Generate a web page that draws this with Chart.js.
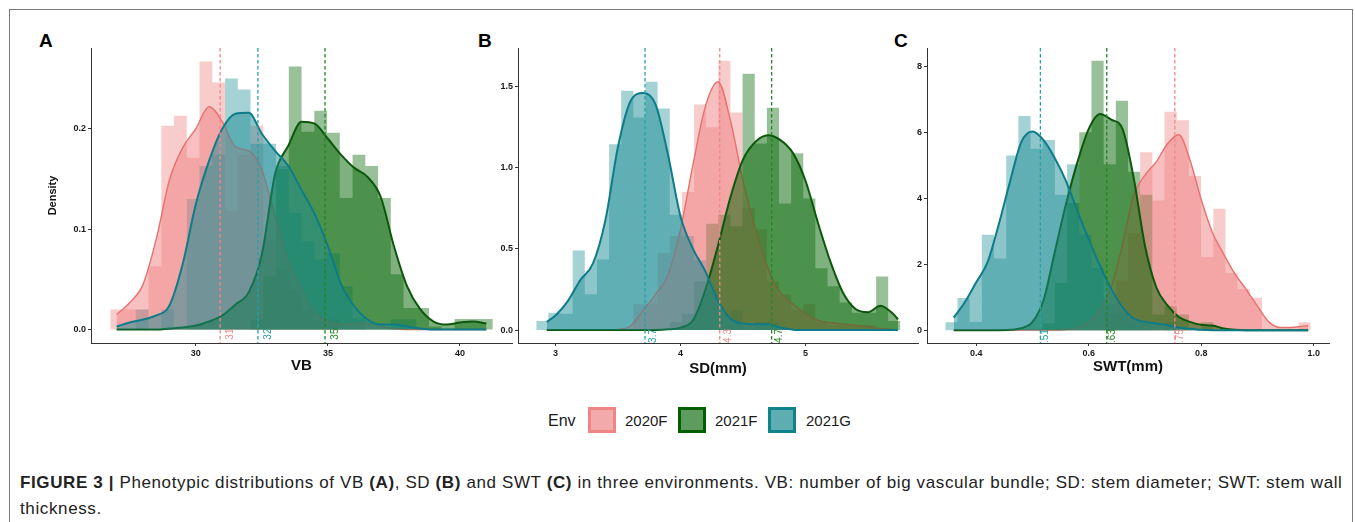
<!DOCTYPE html>
<html>
<head>
<meta charset="utf-8">
<script src="https://cdn.jsdelivr.net/npm/chart.js@4.4.0/dist/chart.umd.min.js"></script>
<style>
  html, body { margin: 0; padding: 0; background: #fff; }
  body { width: 1355px; height: 522px; position: relative; overflow: hidden; font-family: "Liberation Sans", Arial, sans-serif; }
  .frame { position: absolute; left: 9px; top: 9px; width: 1344px; height: 540px; border: 1px solid #7a7a7a; box-sizing: border-box; }
  canvas { position: absolute; top: 40px; }
  .tag { position: absolute; top: 30px; font: bold 19px "Liberation Sans", Arial, sans-serif; color: #000; }
  .leg { position: absolute; top: 411px; line-height: 20px; font-size: 15px; color: #1a1a1a; }
  .key { position: absolute; top: 407px; width: 28px; height: 26px; box-sizing: border-box; border: 3px solid; }
  .caption { position: absolute; left: 20px; top: 470px; font-size: 17px; letter-spacing: 0.62px; line-height: 26px; color: #222; white-space: nowrap; }
</style>
</head>
<body>
<div class="frame"></div>
<div class="tag" style="left:39px">A</div>
<div class="tag" style="left:478px">B</div>
<div class="tag" style="left:894px">C</div>

<canvas id="vb" width="480" height="338" style="left:40px"></canvas>
<canvas id="sd" width="459" height="338" style="left:467px"></canvas>
<canvas id="swt" width="461" height="338" style="left:876px"></canvas>

<div class="leg" style="left:548px;font-size:16px">Env</div>
<div class="key" style="left:588px;background:#F2AAAA;border-color:#F08585"></div>
<div class="leg" style="left:625px">2020F</div>
<div class="key" style="left:678px;background:#5E9B5E;border-color:#005F00"></div>
<div class="leg" style="left:715px">2021F</div>
<div class="key" style="left:768px;background:#5EADB1;border-color:#10838D"></div>
<div class="leg" style="left:806px">2021G</div>

<div class="caption">
  <div><b>FIGURE 3 |</b> Phenotypic distributions of VB <b>(A)</b>, SD <b>(B)</b> and SWT <b>(C)</b> in three environments. VB: number of big vascular bundle; SD: stem diameter; SWT: stem wall</div>
  <div>thickness.</div>
</div>

<script>
// ---- data ----
const groups = ['2020F', '2021F', '2021G'];

// panel A: VB
const vbBinStart = 26.76;
const vbBinWidth = 0.4828;
const vbHist2020F = [0.02,0.02,0.02,0.063,0.203,0.213,0.171,0.267,0.246,0.118,0.174,0.203,0.089,0.06,0.04,0.02,0.01,0.01,0,0,0,0,0,0,0,0,0,0,0,0];
const vbHist2021F = [0,0,0,0,0,0,0,0,0,0,0,0.01,0.053,0.16,0.262,0.197,0.218,0.196,0.131,0.174,0.163,0.131,0.055,0.0215,0.0215,0.003,0,0.0106,0.0106,0.0106];
const vbHist2021G = [0,0,0.02,0,0.02,0,0.13,0.163,0.174,0.25,0.239,0.185,0.185,0.163,0.116,0.088,0.07,0.076,0.043,0.0116,0,0,0.01,0.01,0,0,0,0,0,0];
const vbDensX = [27,27.5,28,28.5,29,29.5,30,30.5,31,31.5,32,32.5,33,33.5,34,34.5,35,35.5,36,36.5,37,37.5,38,38.5,39,39.5,40,40.5,41];
const vbDens2020F = [0.015,0.027,0.045,0.09,0.149,0.181,0.2,0.222,0.207,0.182,0.178,0.159,0.113,0.068,0.04,0.017,0.008,0.005,0.006,0.006,0.003,0.001,0,0,0,0,0,0,0];
const vbDens2021F = [0,0,0,0,0.001,0.002,0.004,0.008,0.014,0.025,0.037,0.075,0.155,0.183,0.207,0.205,0.19,0.174,0.161,0.152,0.132,0.083,0.043,0.02,0.008,0.005,0.007,0.008,0.006];
const vbDens2021G = [0.003,0.007,0.01,0.014,0.024,0.065,0.125,0.168,0.2,0.215,0.216,0.195,0.178,0.163,0.139,0.115,0.083,0.045,0.023,0.01,0.005,0.005,0.003,0.001,0,0,0,0,0];
const vbMeans = [30.92, 34.89, 32.35];
const vbMeanLabels = ['31', '35', '32'];
const vbXTicks = [30, 35, 40];
const vbXLabels = ['30', '35', '40'];
const vbYTicks = [0, 0.1, 0.2];
const vbYLabels = ['0.0', '0.1', '0.2'];

// panel B: SD(mm)
const sdBinStart = 2.846;
const sdBinWidth = 0.0971;
const sdHist2020F = [0,0,0,0,0,0,0,0,0.16,0.16,0.475,0.58,0.85,1.39,1.25,1.66,1.34,0.75,0.62,0.3,0.22,0.12,0.16,0.05,0.03,0.03,0.03,0.03,0,0];
const sdHist2021F = [0,0,0,0,0,0,0,0,0,0,0,0.05,0.1,0.3,0.655,0.71,0.64,1.58,1.15,1.37,0.78,1.09,0.81,0.38,0.27,0.17,0.107,0.107,0.33,0.055];
const sdHist2021G = [0.055,0.107,0.1,0.49,0.22,0.434,1.145,1.475,1.31,1.53,1.365,0.71,0.58,0.43,0.25,0.1,0.12,0,0.05,0.05,0,0,0,0,0,0,0,0,0,0];
const sdDensX = [2.93,3.0,3.1,3.2,3.3,3.4,3.5,3.6,3.7,3.8,3.9,4.0,4.1,4.2,4.3,4.4,4.5,4.6,4.7,4.8,4.9,5.0,5.1,5.2,5.3,5.4,5.5,5.6,5.7,5.74];
const sdDens2020F = [0,0,0,0,0,0,0.004,0.025,0.12,0.22,0.34,0.62,1.02,1.38,1.53,1.29,0.92,0.62,0.38,0.23,0.16,0.1,0.06,0.045,0.038,0.03,0.02,0.01,0.004,0.002];
const sdDens2021F = [0,0,0,0,0,0,0,0,0,0,0.004,0.015,0.06,0.25,0.52,0.82,1.05,1.16,1.2,1.17,1.09,0.92,0.66,0.42,0.23,0.13,0.11,0.15,0.1,0.066];
const sdDens2021G = [0.05,0.09,0.18,0.31,0.41,0.68,1.13,1.41,1.46,1.39,1.08,0.7,0.5,0.36,0.18,0.07,0.04,0.035,0.035,0.015,0.002,0,0,0,0,0,0,0,0,0];
const sdMeans = [4.314, 4.729, 3.716];
const sdMeanLabels = ['4.3', '4.7', '3.7'];
const sdXTicks = [3, 4, 5];
const sdXLabels = ['3', '4', '5'];
const sdYTicks = [0, 0.5, 1.0, 1.5];
const sdYLabels = ['0.0', '0.5', '1.0', '1.5'];

// panel C: SWT(mm)
const swtBinStart = 0.345;
const swtBinWidth = 0.02165;
const swtHist2020F = [0,0,0,0,0,0,0,0,0,0,0,0,0,0.5,1.5,2.94,5.39,3.93,6.62,6.36,4.67,2.22,3.68,1.73,1.25,0.98,0,0,0,0.24];
const swtHist2021F = [0,0,0,0,0,0,0,0,0.2,1.43,3.85,6.0,8.16,5.03,6.95,4.8,4.1,0.47,0.72,0.47,0,0.24,0,0,0,0,0,0,0,0];
const swtHist2021G = [0.24,0.97,0.25,2.89,2.17,5.29,6.49,5.5,5.76,4.1,5.03,2.89,1.88,0.8,0.5,0.24,0.24,0,0.24,0,0,0,0,0,0,0,0,0,0,0];
const swtDensX = [0.36,0.38,0.40,0.42,0.44,0.46,0.48,0.50,0.52,0.54,0.56,0.58,0.60,0.62,0.64,0.66,0.68,0.70,0.72,0.74,0.76,0.78,0.80,0.82,0.84,0.86,0.88,0.90,0.92,0.94,0.96,0.98,0.99];
const swtDens2020F = [0,0,0,0,0,0,0,0,0,0,0.02,0.08,0.25,0.65,1.3,2.6,4.1,4.7,5.1,5.65,5.92,5.15,3.95,2.95,2.3,1.7,1.23,0.72,0.25,0.08,0.08,0.12,0.14];
const swtDens2021F = [0,0,0,0,0,0.01,0.06,0.25,0.93,2.4,3.85,5.1,6.1,6.55,6.38,6.1,4.6,2.55,1.3,0.75,0.4,0.25,0.16,0.14,0.05,0.01,0,0,0,0,0,0,0];
const swtDens2021G = [0.38,0.85,1.45,2.05,3.2,4.5,5.7,6.02,5.75,5.2,4.5,3.6,2.75,1.95,1.25,0.7,0.35,0.25,0.2,0.15,0.08,0.04,0.01,0,0,0,0,0,0,0,0,0,0];
const swtMeans = [0.753, 0.632, 0.514];
const swtMeanLabels = ['0.75', '0.63', '0.51'];
const swtXTicks = [0.4, 0.6, 0.8, 1.0];
const swtXLabels = ['0.4', '0.6', '0.8', '1.0'];
const swtYTicks = [0, 2, 4, 6, 8];
const swtYLabels = ['0', '2', '4', '6', '8'];

// ---- styles ----
const FONT = '"Liberation Sans", Arial, sans-serif';
const base = { '2020F': '240,128,128', '2021F': '0,100,0', '2021G': '28,142,150' };
const lineColor = { '2020F': '#E8706E', '2021F': '#0B570B', '2021G': '#0E7C88' };
const lineWidth = { '2020F': 1.4, '2021F': 2, '2021G': 2 };
const dashColor = { '2020F': '#F08888', '2021F': '#238623', '2021G': '#27A0A8' };
const histAlpha = 0.4;
const densAlpha = 0.5;

function histPoints(start, width, heights) {
  const pts = heights.map((h, i) => ({ x: start + width * i, y: h }));
  pts.push({ x: start + width * heights.length, y: 0 });
  return pts;
}

function densPoints(xs, ys) {
  return xs.map((x, i) => ({ x: x, y: ys[i] }));
}

const meanLines = {
  id: 'meanLines',
  afterDatasetsDraw(chart, args, opts) {
    const { ctx, chartArea: a, scales: { x, y } } = chart;
    const y0 = y.getPixelForValue(0);
    ctx.save();
    ctx.beginPath();
    ctx.rect(a.left, a.top, a.right - a.left, a.bottom - a.top);
    ctx.clip();
    opts.values.forEach((v, i) => {
      const g = groups[i];
      const px = x.getPixelForValue(v);
      ctx.strokeStyle = dashColor[g];
      ctx.lineWidth = 1.3;
      ctx.setLineDash([3.5, 2.5]);
      ctx.beginPath();
      ctx.moveTo(px, a.top);
      ctx.lineTo(px, a.bottom);
      ctx.stroke();
      ctx.save();
      ctx.translate(px + opts.offset, y0 - 1);
      ctx.rotate(-Math.PI / 2);
      ctx.fillStyle = dashColor[g];
      ctx.font = '10px ' + FONT;
      ctx.textAlign = 'right';
      ctx.textBaseline = 'top';
      ctx.fillText(opts.labels[i], 0, 0);
      ctx.restore();
    });
    ctx.restore();
  }
};

function makePanel(id, p) {
  const datasets = [];
  groups.forEach((g, i) => {
    datasets.push({
      data: histPoints(p.binStart, p.binWidth, p.hist[i]),
      stepped: true,
      fill: 'origin',
      backgroundColor: 'rgba(' + base[g] + ',' + histAlpha + ')',
      borderColor: 'transparent',
      borderWidth: 0,
      pointRadius: 0,
      order: 6 - i
    });
  });
  groups.forEach((g, i) => {
    datasets.push({
      data: densPoints(p.densX, p.dens[i]),
      fill: 'origin',
      backgroundColor: 'rgba(' + base[g] + ',' + densAlpha + ')',
      borderColor: lineColor[g],
      borderWidth: lineWidth[g],
      pointRadius: 0,
      cubicInterpolationMode: 'monotone',
      order: 3 - i
    });
  });

  const tickFont = { family: FONT, size: 9, weight: 'bold' };
  new Chart(document.getElementById(id), {
    type: 'line',
    data: { datasets: datasets },
    options: {
      responsive: false,
      animation: false,
      events: [],
      layout: { padding: { left: 0, top: 8, right: 8, bottom: 0 } },
      plugins: {
        legend: { display: false },
        tooltip: { enabled: false },
        meanLines: { values: p.means, labels: p.meanLabels, offset: p.labelOffset }
      },
      scales: {
        x: {
          type: 'linear',
          min: p.xMin,
          max: p.xMax,
          afterBuildTicks: s => { s.ticks = p.xTicks.map(v => ({ value: v })); },
          afterFit: s => { s.height = 35; },
          ticks: { callback: (v, i) => p.xLabels[i], font: tickFont, color: '#1a1a1a', padding: 2, maxRotation: 0, autoSkip: false },
          grid: { drawOnChartArea: false, tickLength: 3, color: '#333' },
          border: { color: '#333', width: 1 },
          title: { display: true, text: p.xTitle, font: { family: FONT, size: 15, weight: 'bold' }, color: '#111', padding: { top: 0, bottom: p.titlePad } }
        },
        y: {
          type: 'linear',
          min: p.yMin,
          max: p.yMax,
          afterBuildTicks: s => { s.ticks = p.yTicks.map(v => ({ value: v })); },
          afterFit: s => { s.width = 51; },
          ticks: { callback: (v, i) => p.yLabels[i], font: tickFont, color: '#1a1a1a', padding: 2, autoSkip: false },
          grid: { drawOnChartArea: false, tickLength: 3, color: '#333' },
          border: { color: '#333', width: 1 },
          title: { display: !!p.yTitle, text: p.yTitle || '', font: { family: FONT, size: 11, weight: 'bold' }, color: '#111', padding: { top: 6, bottom: 0 } }
        }
      }
    },
    plugins: [meanLines]
  });
}

makePanel('vb', {
  binStart: vbBinStart, binWidth: vbBinWidth,
  hist: [vbHist2020F, vbHist2021F, vbHist2021G],
  densX: vbDensX, dens: [vbDens2020F, vbDens2021F, vbDens2021G],
  means: vbMeans, meanLabels: vbMeanLabels, labelOffset: 5,
  xMin: 26.03, xMax: 41.97, yMin: -0.0134, yMax: 0.2804,
  xTicks: vbXTicks, xLabels: vbXLabels, yTicks: vbYTicks, yLabels: vbYLabels,
  xTitle: 'VB', yTitle: 'Density', titlePad: 3
});

makePanel('sd', {
  binStart: sdBinStart, binWidth: sdBinWidth,
  hist: [sdHist2020F, sdHist2021F, sdHist2021G],
  densX: sdDensX, dens: [sdDens2020F, sdDens2021F, sdDens2021G],
  means: sdMeans, meanLabels: sdMeanLabels, labelOffset: 3,
  xMin: 2.70, xMax: 5.90, yMin: -0.08, yMax: 1.738,
  xTicks: sdXTicks, xLabels: sdXLabels, yTicks: sdYTicks, yLabels: sdYLabels,
  xTitle: 'SD(mm)', titlePad: 0
});

makePanel('swt', {
  binStart: swtBinStart, binWidth: swtBinWidth,
  hist: [swtHist2020F, swtHist2021F, swtHist2021G],
  densX: swtDensX, dens: [swtDens2020F, swtDens2021F, swtDens2021G],
  means: swtMeans, meanLabels: swtMeanLabels, labelOffset: 0,
  xMin: 0.3125, xMax: 1.027, yMin: -0.39, yMax: 8.55,
  xTicks: swtXTicks, xLabels: swtXLabels, yTicks: swtYTicks, yLabels: swtYLabels,
  xTitle: 'SWT(mm)', titlePad: 2
});
</script>
</body>
</html>
